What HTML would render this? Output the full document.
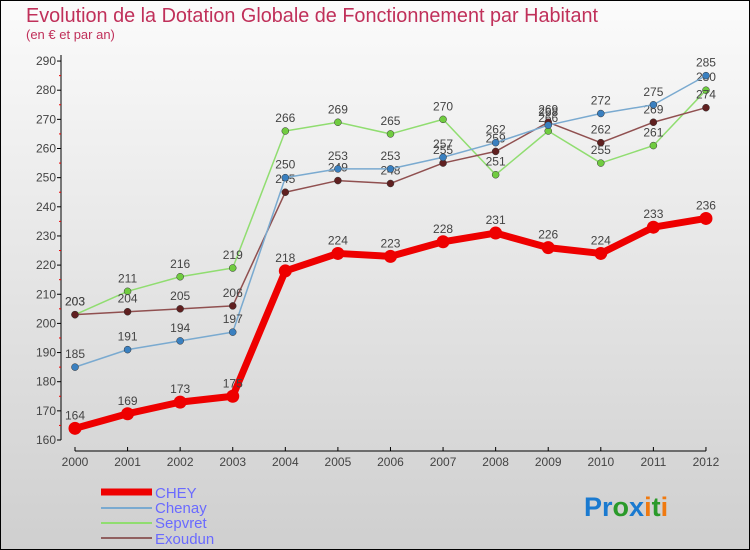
<!DOCTYPE html>
<html><head><meta charset="utf-8"><style>
body{margin:0}
#c{width:750px;height:550px;position:relative;overflow:hidden;font-family:"Liberation Sans",sans-serif}
</style></head><body>
<div id="c">
<svg id="s" width="750" height="550" xmlns="http://www.w3.org/2000/svg">
<defs><linearGradient id="bg" x1="0" y1="0" x2="0" y2="1"><stop offset="0" stop-color="#fbfbfb"/><stop offset="1" stop-color="#cfcfcf"/></linearGradient></defs>
<rect x="0.5" y="0.5" width="749" height="549" fill="url(#bg)" stroke="#000"/>
<text x="26" y="22" font-size="20" fill="#c0305a" textLength="572" lengthAdjust="spacingAndGlyphs">Evolution de la Dotation Globale de Fonctionnement par Habitant</text>
<text x="26" y="39" font-size="13" fill="#c0305a">(en € et par an)</text>
<g id="axes"></g><g id="series"></g>
<g>
<line x1="101" y1="492" x2="152" y2="492" stroke="#e00" stroke-width="7"/>
<text x="155" y="498" font-size="15" fill="#6a6aff">CHEY</text>
<line x1="101" y1="508" x2="152" y2="508" stroke="#7aaad0" stroke-width="2"/>
<text x="155" y="513" font-size="15" fill="#6a6aff">Chenay</text>
<line x1="101" y1="523" x2="152" y2="523" stroke="#90dd70" stroke-width="2"/>
<text x="155" y="528" font-size="15" fill="#6a6aff">Sepvret</text>
<line x1="101" y1="538" x2="152" y2="538" stroke="#906060" stroke-width="2"/>
<text x="155" y="544" font-size="15" fill="#6a6aff">Exoudun</text>
</g>
<text x="584" y="516" font-size="27" font-weight="bold"><tspan fill="#1a7ad0">Pr</tspan><tspan fill="#2a9a2a">o</tspan><tspan fill="#1a7ad0">x</tspan><tspan fill="#f07a10">i</tspan><tspan fill="#2a9a2a">t</tspan><tspan fill="#f07a10">i</tspan></text>
</svg>
</div>
<script>
const years=["2000","2001","2002","2003","2004","2005","2006","2007","2008","2009","2010","2011","2012"];
const yTicks=[160,170,180,190,200,210,220,230,240,250,260,270,280,290];
const chey=[164,169,173,175,218,224,223,228,231,226,224,233,236];
const chenay=[185,191,194,197,250,253,253,257,262,268,272,275,285];
const sepvret=[203,211,216,219,266,269,265,270,251,266,255,261,280];
const exoudun=[203,204,205,206,245,249,248,255,259,269,262,269,274];
const NS="http://www.w3.org/2000/svg";
const X0=75,XS=52.58,Y0=440,YMIN=160,YPX=2.915;
function xs(i){return X0+i*XS;}
function ys(v){return Y0-(v-YMIN)*YPX;}
function mk(tag,attrs,parent){const e=document.createElementNS(NS,tag);for(const k in attrs)e.setAttribute(k,attrs[k]);parent.appendChild(e);return e;}
const ax=document.getElementById('axes');
let l=mk('line',{x1:61,y1:55,x2:61,y2:ys(160),stroke:'#000'},ax);


l=mk('line',{x1:xs(0),y1:451,x2:xs(12),y2:451,stroke:'#000'},ax);


yTicks.forEach(v=>{
 mk('line',{x1:57,y1:ys(v),x2:61,y2:ys(v),stroke:'#000'},ax);
 if(v<290) mk('line',{x1:59,y1:ys(v+5),x2:61,y2:ys(v+5),stroke:'#e00'},ax);
 const t=mk('text',{x:56,y:ys(v)+4,'font-size':12,'text-anchor':'end',fill:'#444'},ax);
 t.textContent=v;
 
 
});
years.forEach((y,i)=>{
 mk('line',{x1:xs(i),y1:447,x2:xs(i),y2:451,stroke:'#000'},ax);
 const t=mk('text',{x:xs(i),y:466,'font-size':12,'text-anchor':'middle',fill:'#444'},ax);
 t.textContent=y;
 
 
});
const sg=document.getElementById('series');
function draw(data,name,col,dot,w,r){
 const g=mk('g',{},sg);
 
 
 const p=mk('polyline',{points:data.map((v,i)=>xs(i)+','+ys(v)).join(' '),fill:'none',stroke:col,'stroke-width':w,'stroke-linejoin':'round'},g);
 
 
 data.forEach((v,i)=>{
  const c=mk('circle',{cx:xs(i),cy:ys(v),r:r,fill:dot,stroke:'#333','stroke-width':r>5?0:0.5},g);
  
  
  const t=mk('text',{x:xs(i),y:ys(v)-9,'font-size':12,'text-anchor':'middle',fill:'#444'},g);
  t.textContent=v;
  
  
 });
}
draw(sepvret,'sepvret','#90dd70','#70cc40',1.5,3.5);
draw(exoudun,'exoudun','#905050','#602020',1.5,3.5);
draw(chenay,'chenay','#7aaad0','#3a80c0',1.5,3.5);
draw(chey,'chey','#e00','#e00',7,6.5);
</script>
</body></html>
